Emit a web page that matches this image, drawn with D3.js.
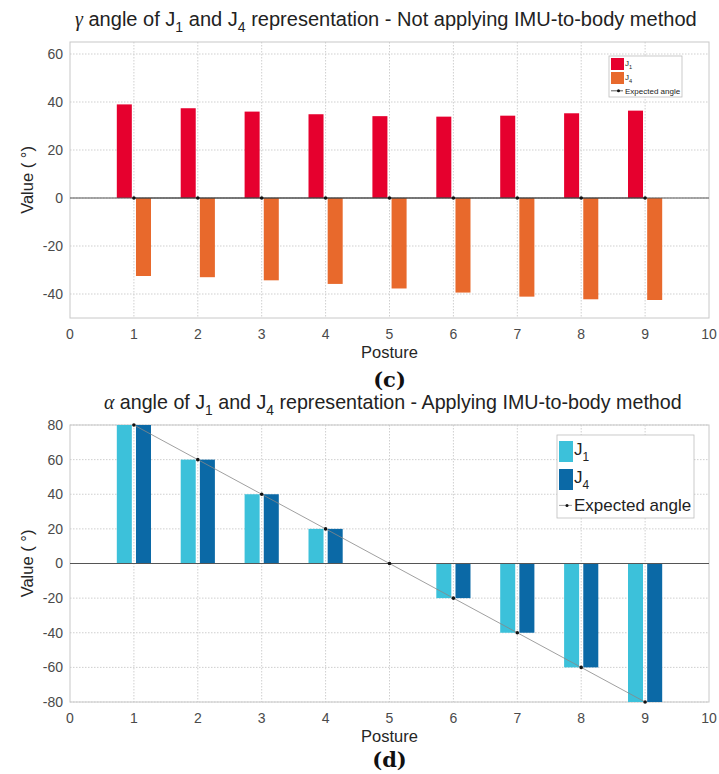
<!DOCTYPE html>
<html lang="en">
<head>
<meta charset="UTF-8">
<title>Angles of J1 and J4</title>
<script src="https://d3js.org/d3.v7.min.js"></script>
<style>
  body { margin: 0; background: #fff; }
  svg text { font-family: "Liberation Sans", Arial, sans-serif; }
</style>
</head>
<body>
<svg id="chart" width="719" height="774"></svg>
<script>
// data
var postures = [1, 2, 3, 4, 5, 6, 7, 8, 9];
var xTicks = [0, 1, 2, 3, 4, 5, 6, 7, 8, 9, 10];

// (c) gamma angle, not applying IMU-to-body
var gammaJ1 = [39, 37.4, 36, 34.9, 34.1, 33.9, 34.3, 35.3, 36.4];
var gammaJ4 = [-32.5, -33, -34.3, -35.8, -37.7, -39.4, -41.1, -42.2, -42.5];
var gammaExpected = [0, 0, 0, 0, 0, 0, 0, 0, 0];
var gammaYTicks = [-40, -20, 0, 20, 40, 60];

// (d) alpha angle, applying IMU-to-body
var alphaJ1 = [80, 60, 40, 20, 0, -20, -40, -60, -80];
var alphaJ4 = [80, 60, 40, 20, 0, -20, -40, -60, -80];
var alphaExpected = [80, 60, 40, 20, 0, -20, -40, -60, -80];
var alphaYTicks = [-80, -60, -40, -20, 0, 20, 40, 60, 80];

var svg = d3.select("#chart");

function panel(o) {
  var x = d3.scaleLinear().domain([0, 10]).range([70, 709]);
  var y = d3.scaleLinear().domain(o.yDomain).range(o.yRange);
  var g = svg.append("g");
  var top = o.yRange[1], bot = o.yRange[0];

  // grid
  g.selectAll(".gx").data(xTicks.slice(1, -1)).enter().append("line")
    .attr("x1", d => x(d)).attr("x2", d => x(d))
    .attr("y1", top).attr("y2", bot)
    .attr("stroke", "#cfcfcf").attr("stroke-dasharray", "1.5,1.5");
  g.selectAll(".gy").data(o.yTicks).enter().append("line")
    .attr("x1", x(0)).attr("x2", x(10))
    .attr("y1", d => y(d)).attr("y2", d => y(d))
    .attr("stroke", "#cfcfcf").attr("stroke-dasharray", "1.5,1.5");
  g.append("rect").attr("x", x(0)).attr("y", top)
    .attr("width", x(10) - x(0)).attr("height", bot - top)
    .attr("fill", "none").attr("stroke", "#c8c8c8");

  // bars
  var bw = 0.235, off = 0.15;
  [[o.j1, o.c1, -off], [o.j4, o.c4, off]].forEach(function (s) {
    g.selectAll(null).data(s[0]).enter().append("rect")
      .attr("x", (d, i) => x(postures[i] + s[2] - bw / 2))
      .attr("width", x(bw) - x(0))
      .attr("y", d => y(Math.max(0, d)))
      .attr("height", d => Math.abs(y(d) - y(0)))
      .attr("fill", s[1]);
  });

  // zero line
  g.append("line").attr("x1", x(0)).attr("x2", x(10))
    .attr("y1", y(0)).attr("y2", y(0)).attr("stroke", "#555").attr("stroke-width", 1);

  // expected angle
  var line = d3.line().x((d, i) => x(postures[i])).y(d => y(d));
  g.append("path").datum(o.exp).attr("d", line)
    .attr("fill", "none").attr("stroke", o.lineColor).attr("stroke-width", 0.8);
  g.selectAll(null).data(o.exp).enter().append("circle")
    .attr("cx", (d, i) => x(postures[i])).attr("cy", d => y(d))
    .attr("r", 1.8).attr("fill", "#111");

  // tick labels
  g.selectAll(null).data(o.yTicks).enter().append("text")
    .attr("x", 63).attr("y", d => y(d)).attr("dy", "0.35em")
    .attr("text-anchor", "end").attr("font-size", 14).attr("fill", "#4a4a4a")
    .text(d => d);
  g.selectAll(null).data(xTicks).enter().append("text")
    .attr("x", d => x(d)).attr("y", bot + 16).attr("dy", "0.35em")
    .attr("text-anchor", "middle").attr("font-size", 14).attr("fill", "#4a4a4a")
    .text(d => d);

  // axis labels
  g.append("text").attr("x", x(5)).attr("y", bot + 40)
    .attr("text-anchor", "middle").attr("font-size", 16.5).attr("fill", "#262626")
    .text("Posture");
  g.append("text").attr("transform", "translate(33," + ((top + bot) / 2) + ") rotate(-90)")
    .attr("text-anchor", "middle").attr("font-size", 16.5).attr("fill", "#262626")
    .text("Value ( \u00b0)");

  // title, a bit condensed like the original
  var t = g.append("text").attr("font-size", 20).attr("fill", "#222");
  t.append("tspan").attr("font-family", "Liberation Serif, serif").attr("font-style", "italic")
    .text(o.sym);
  t.append("tspan").text(" angle of J");
  t.append("tspan").attr("font-size", 14).attr("dy", 6).text("1");
  t.append("tspan").attr("dy", -6).text(" and J");
  t.append("tspan").attr("font-size", 14).attr("dy", 6).text("4");
  t.append("tspan").attr("dy", -6).text(" representation - " + o.rest);
  var w = t.node().getBBox().width;
  t.attr("transform", "translate(" + o.titleX + "," + (top - 16) + ") scale(" + (o.titleW / w) + ",1)");

  // panel letter
  g.append("text").attr("x", x(5)).attr("y", o.letterY)
    .attr("text-anchor", "middle").attr("font-size", 21).attr("font-weight", "bold")
    .style("font-family", "'DejaVu Serif', 'Liberation Serif', serif").attr("fill", "#111")
    .text(o.letter);

  // legend
  var L = o.legend;
  var lg = g.append("g");
  lg.append("rect").attr("x", L.x).attr("y", L.y).attr("width", L.w).attr("height", L.h)
    .attr("fill", "#fff").attr("stroke", "#bdbdbd").attr("stroke-width", 0.8);
  [[o.c1, "1", 0], [o.c4, "4", 1]].forEach(function (e) {
    var yy = L.y + L.pad + e[2] * L.row;
    lg.append("rect").attr("x", L.x + 2).attr("y", yy).attr("width", L.sw).attr("height", L.sh)
      .attr("fill", e[0]);
    var tx = lg.append("text").attr("x", L.x + L.sw + 3).attr("y", yy + L.sh * 0.65)
      .attr("font-size", L.fs).attr("fill", "#222");
    tx.append("tspan").text("J");
    tx.append("tspan").attr("font-size", L.fs * 0.7).attr("dy", L.fs * 0.4).text(e[1]);
  });
  var ey = L.y + L.pad + 2 * L.row + L.sh * 0.4;
  lg.append("line").attr("x1", L.x + 2).attr("x2", L.x + L.sw + 1)
    .attr("y1", ey).attr("y2", ey).attr("stroke", o.lineColor).attr("stroke-width", 0.8);
  lg.append("circle").attr("cx", L.x + 2 + L.sw / 2 + 1).attr("cy", ey).attr("r", 1.5).attr("fill", "#111");
  lg.append("text").attr("x", L.x + L.sw + 3).attr("y", ey).attr("dy", "0.35em")
    .attr("font-size", L.fs).attr("fill", "#222").text("Expected angle");
}

panel({
  yDomain: [-50, 65], yRange: [318, 42], yTicks: gammaYTicks,
  j1: gammaJ1, j4: gammaJ4, exp: gammaExpected,
  c1: "#e6002e", c4: "#e8692c", lineColor: "#333",
  sym: "\u03b3", rest: "Not applying IMU-to-body method", titleX: 75, titleW: 622,
  letter: "(c)", letterY: 387,
  legend: { x: 609, y: 56, w: 73, h: 41, pad: 2, row: 14, sw: 13, sh: 12, fs: 8 }
});

panel({
  yDomain: [-80, 80], yRange: [702, 425], yTicks: alphaYTicks,
  j1: alphaJ1, j4: alphaJ4, exp: alphaExpected,
  c1: "#3cc1da", c4: "#0b69a6", lineColor: "#888",
  sym: "\u03b1", rest: "Applying IMU-to-body method", titleX: 104, titleW: 578,
  letter: "(d)", letterY: 767,
  legend: { x: 557, y: 435, w: 137, h: 83, pad: 6, row: 28, sw: 14, sh: 21, fs: 17 }
});
</script>
</body>
</html>
